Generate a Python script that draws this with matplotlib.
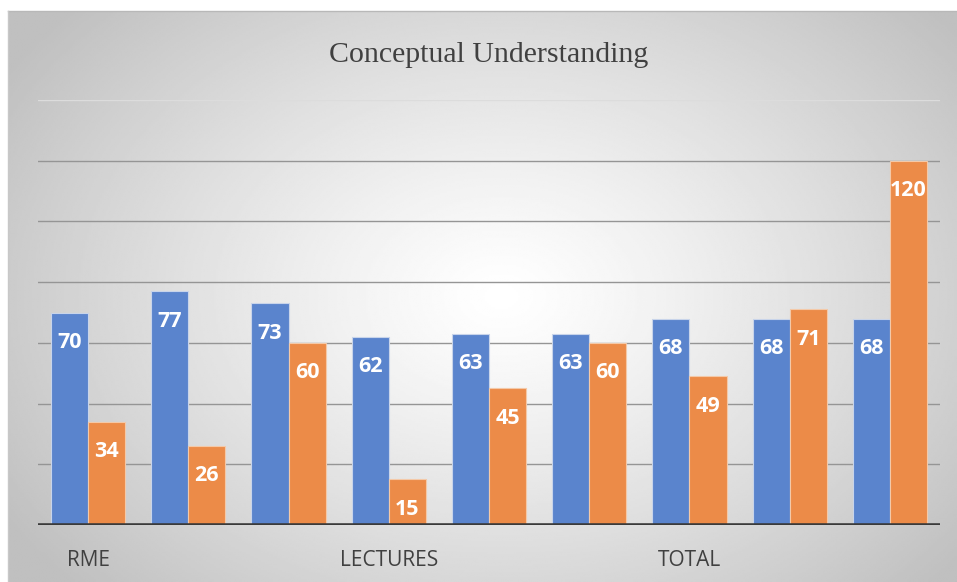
import numpy as np
import matplotlib.pyplot as plt

# data
groups = ["RME", "", "", "LECTURES", "", "", "TOTAL", "", ""]
blue_vals = [70, 77, 73, 62, 63, 63, 68, 68, 68]
orange_vals = [34, 26, 60, 15, 45, 60, 49, 71, 120]
grid_vals = [20, 40, 60, 80, 100, 120, 140]

blue = "#5A84CD"
orange = "#EC8B48"

W, H = 957, 582
fig = plt.figure(figsize=(W / 100, H / 100), dpi=100)
fig.patch.set_facecolor("white")

# gradient background of the chart area
bg = fig.add_axes([8 / W, 0, (W - 8) / W, (H - 11) / H])
yy, xx = np.mgrid[0:1:300j, 0:1:500j]
r = np.sqrt(((xx - 0.52) / 0.62) ** 2 + ((yy - 0.50) / 0.75) ** 2)
shade = 1 - 0.25 * np.clip(r, 0, 1) ** 1.2
bg.imshow(shade, cmap="gray", vmin=0, vmax=1, aspect="auto",
          extent=[0, 1, 0, 1], origin="upper", interpolation="bilinear")
bg.axis("off")
# thin border on top/left
fig.add_artist(plt.Line2D([8 / W, 1], [1 - 11 / H] * 2, color="#b8b8b8", lw=1))
fig.add_artist(plt.Line2D([8 / W] * 2, [0, 1 - 11 / H], color="#c8c8c8", lw=1))

ax = fig.add_axes([38 / W, 1 - 525 / H, 902 / W, 425 / H])
ax.set_facecolor("none")
x = np.arange(len(blue_vals))
bw = 0.37

for g in grid_vals:
    ax.axhline(g, color="#959595" if g < 140 else "#dcdcdc", lw=1, zorder=1)

b1 = ax.bar(x - bw / 2, blue_vals, bw, color=blue, edgecolor="#c8d4ea",
            linewidth=0.8, zorder=2)
b2 = ax.bar(x + bw / 2, orange_vals, bw, color=orange, edgecolor="#f4c9a8",
            linewidth=0.8, zorder=2)

for bars, vals in ((b1, blue_vals), (b2, orange_vals)):
    for rect, v in zip(bars, vals):
        ax.annotate(str(v), (rect.get_x() + rect.get_width() / 2, v),
                    xytext=(0, -21.5), textcoords="offset points",
                    ha="center", va="center", color="white",
                    fontsize=15.5, fontweight="bold", family="Open Sans", zorder=3)

ax.axhline(0, color="#3a3a3a", lw=3.3, zorder=4)
ax.set_xlim(-0.5, len(blue_vals) - 0.5)
ax.set_ylim(0, 140)
ax.set_yticks([])
ax.set_xticks(x)
ax.set_xticklabels(groups, fontsize=15, color="#404040", family="Open Sans")
ax.tick_params(axis="x", length=0, pad=18)
for s in ax.spines.values():
    s.set_visible(False)

ax.set_title("Conceptual Understanding", family="Liberation Serif",
             fontsize=21.5, color="#404040", pad=27)

fig.savefig("out.png", dpi=100)
